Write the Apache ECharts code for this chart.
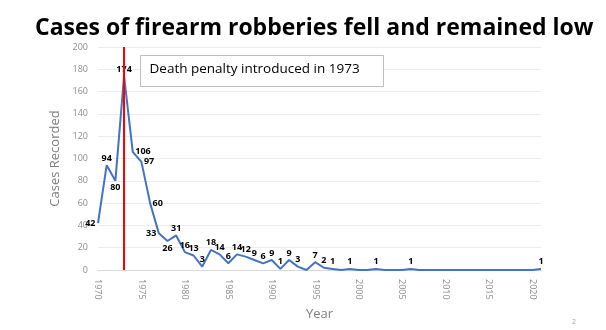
<!DOCTYPE html>
<html>
<head>
<meta charset="utf-8">
<script src="https://cdn.jsdelivr.net/npm/echarts@6/dist/echarts.min.js"></script>
<style>
  html, body { margin: 0; padding: 0; background: #fff; }
  #chart { width: 606px; height: 330px; }
</style>
</head>
<body>
<div id="chart"></div>
<script>
// Firearm robbery cases per year
const years = [];
for (let y = 1970; y <= 2021; y++) years.push(String(y));

const cases = [
  42, 94, 80, 174, 106, 97, 60, 33, 26, 31,   // 1970-1979
  16, 13, 3, 18, 14, 6, 14, 12, 9, 6,         // 1980-1989
  9, 1, 9, 3, 0, 7, 2, 1, 0, 1,               // 1990-1999
  0, 0, 1, 0, 0, 0, 1, 0, 0, 0,               // 2000-2009
  0, 0, 0, 0, 0, 0, 0, 0, 0, 0,               // 2010-2019
  0, 1                                        // 2020-2021
];

const yTicks = [0, 20, 40, 60, 80, 100, 120, 140, 160, 180, 200];
const penaltyYear = '1973';

// label placement around a few crowded points
const labelPlacement = {
  '1970': 'left', '1972': 'bottom', '1974': 'right', '1975': 'right',
  '1976': 'right', '1977': 'left', '1978': 'bottom'
};

const seriesData = cases.map((v, i) => {
  const item = { value: v };
  const pos = labelPlacement[years[i]];
  if (pos) item.label = { position: pos };
  return item;
});

const chart = echarts.init(document.getElementById('chart'), null, { renderer: 'canvas' });
chart.setOption({
  animation: false,
  title: {
    text: 'Cases of firearm robberies fell and remained low',
    left: 30, top: 12,
    textStyle: { fontFamily: 'Open Sans', fontWeight: 'bold', fontSize: 23, color: '#000' }
  },
  grid: { left: 98, right: 65, top: 47, bottom: 60, containLabel: false },
  xAxis: {
    type: 'category',
    data: years,
    boundaryGap: false,
    name: 'Year',
    nameLocation: 'middle',
    nameGap: 37,
    nameTextStyle: { color: '#7f7f7f', fontSize: 13, fontFamily: 'Open Sans' },
    axisLine: { lineStyle: { color: '#d9d9d9' } },
    axisTick: { show: false },
    axisLabel: {
      rotate: -90, color: '#8c8c8c', fontSize: 9, fontFamily: 'Open Sans', margin: 9,
      interval: (i, v) => Number(v) % 5 === 0
    },
    splitLine: { show: false }
  },
  yAxis: {
    type: 'value',
    min: yTicks[0], max: yTicks[yTicks.length - 1], interval: 20,
    name: 'Cases Recorded',
    nameLocation: 'middle',
    nameGap: 22,
    nameTextStyle: { color: '#7f7f7f', fontSize: 13, fontFamily: 'Open Sans' },
    axisLine: { show: false },
    axisTick: { show: false },
    axisLabel: { color: '#8c8c8c', fontSize: 9, fontFamily: 'Open Sans', margin: 10 },
    splitLine: { lineStyle: { color: '#ececec', width: 1 } }
  },
  series: [{
    type: 'line',
    data: seriesData,
    showSymbol: true,
    symbol: 'circle',
    symbolSize: 1,
    itemStyle: { color: 'rgba(0,0,0,0)' },
    lineStyle: { color: '#4472c4', width: 2 },
    label: {
      show: true, position: 'top', distance: 2,
      color: '#000', fontWeight: 'bold', fontSize: 9, fontFamily: 'Open Sans',
      formatter: p => (p.value === 0 ? '' : String(p.value))
    },
    labelLayout: { hideOverlap: false },
    markLine: {
      silent: true,
      symbol: ['none', 'none'],
      label: { show: false },
      lineStyle: { color: '#ff0000', width: 2, type: 'solid' },
      data: [{ xAxis: penaltyYear }]
    },
    z: 3
  }],
  graphic: [
    {
      type: 'group', left: 140, top: 55, z: 100,
      children: [
        { type: 'rect', z: 100, shape: { x: 0, y: 0, width: 243, height: 31 },
          style: { fill: '#fff', stroke: '#bfbfbf', lineWidth: 1 } },
        { type: 'text', z: 101, x: 9, y: 7,
          style: { text: 'Death penalty introduced in 1973', fontSize: 13.5, fontFamily: 'Open Sans', fill: '#000' } }
      ]
    },
    { type: 'text', left: 572, top: 318, style: { text: '2', fontSize: 7, fill: '#a6a6a6', fontFamily: 'Open Sans' } }
  ]
});
</script>
</body>
</html>
